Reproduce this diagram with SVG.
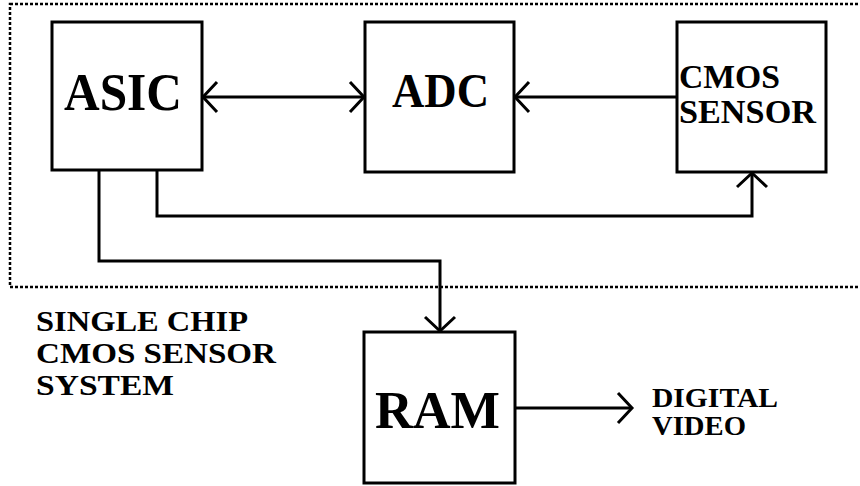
<svg xmlns="http://www.w3.org/2000/svg" width="860" height="486" viewBox="0 0 860 486">
<style>
.box{fill:#fff;stroke:#000;stroke-width:3}
.lbl{font-family:'Liberation Serif','Times New Roman',Times,serif;font-weight:700;fill:#000}
.wire{fill:none;stroke:#000;stroke-width:3}
.frame{fill:none;stroke:#000;stroke-width:2.5;stroke-dasharray:3 2}
</style>
<defs>
<marker id="ah" markerUnits="userSpaceOnUse" markerWidth="40" markerHeight="40" viewBox="-20 -20 40 40" refX="0" refY="0" orient="auto-start-reverse">
<path d="M-14,-15 L0,0 L-14,15" fill="none" stroke="#000" stroke-width="3"/>
</marker>
</defs>
<rect class="frame" x="10" y="4" width="880" height="283"/>
<g id="connectors">
<line class="wire" x1="203" y1="97" x2="364" y2="97" marker-start="url(#ah)" marker-end="url(#ah)"/>
<line class="wire" x1="677" y1="97" x2="515" y2="97" marker-end="url(#ah)"/>
<polyline class="wire" points="157,170 157,216 752,216 752,173" marker-end="url(#ah)"/>
<polyline class="wire" points="99,170 99,261 440,261 440,331" marker-end="url(#ah)"/>
<line class="wire" x1="515" y1="408" x2="632" y2="408" marker-end="url(#ah)"/>
</g>
<g id="asic">
<rect class="box" x="52" y="22" width="150" height="148"/>
<text class="lbl" x="64" y="110" font-size="52" textLength="118" lengthAdjust="spacingAndGlyphs">ASIC</text>
</g>
<g id="adc">
<rect class="box" x="365" y="22" width="149" height="150"/>
<text class="lbl" x="392" y="107" font-size="48" textLength="97" lengthAdjust="spacingAndGlyphs">ADC</text>
</g>
<g id="cmos">
<rect class="box" x="677" y="22" width="149" height="150"/>
<text class="lbl" x="679" y="88" font-size="33" textLength="101" lengthAdjust="spacingAndGlyphs">CMOS</text>
<text class="lbl" x="679" y="123" font-size="33" textLength="137" lengthAdjust="spacingAndGlyphs">SENSOR</text>
</g>
<g id="ram">
<rect class="box" x="364" y="332" width="151" height="151"/>
<text class="lbl" x="375" y="428" font-size="52" textLength="125" lengthAdjust="spacingAndGlyphs">RAM</text>
</g>
<g id="system-label">
<text class="lbl" x="36" y="331" font-size="30" textLength="212" lengthAdjust="spacingAndGlyphs">SINGLE CHIP</text>
<text class="lbl" x="36" y="363" font-size="30" textLength="240" lengthAdjust="spacingAndGlyphs">CMOS SENSOR</text>
<text class="lbl" x="36" y="395" font-size="30" textLength="138" lengthAdjust="spacingAndGlyphs">SYSTEM</text>
</g>
<g id="output-label">
<text class="lbl" x="652" y="407" font-size="28" textLength="126" lengthAdjust="spacingAndGlyphs">DIGITAL</text>
<text class="lbl" x="652" y="435" font-size="28" textLength="94" lengthAdjust="spacingAndGlyphs">VIDEO</text>
</g>
</svg>
